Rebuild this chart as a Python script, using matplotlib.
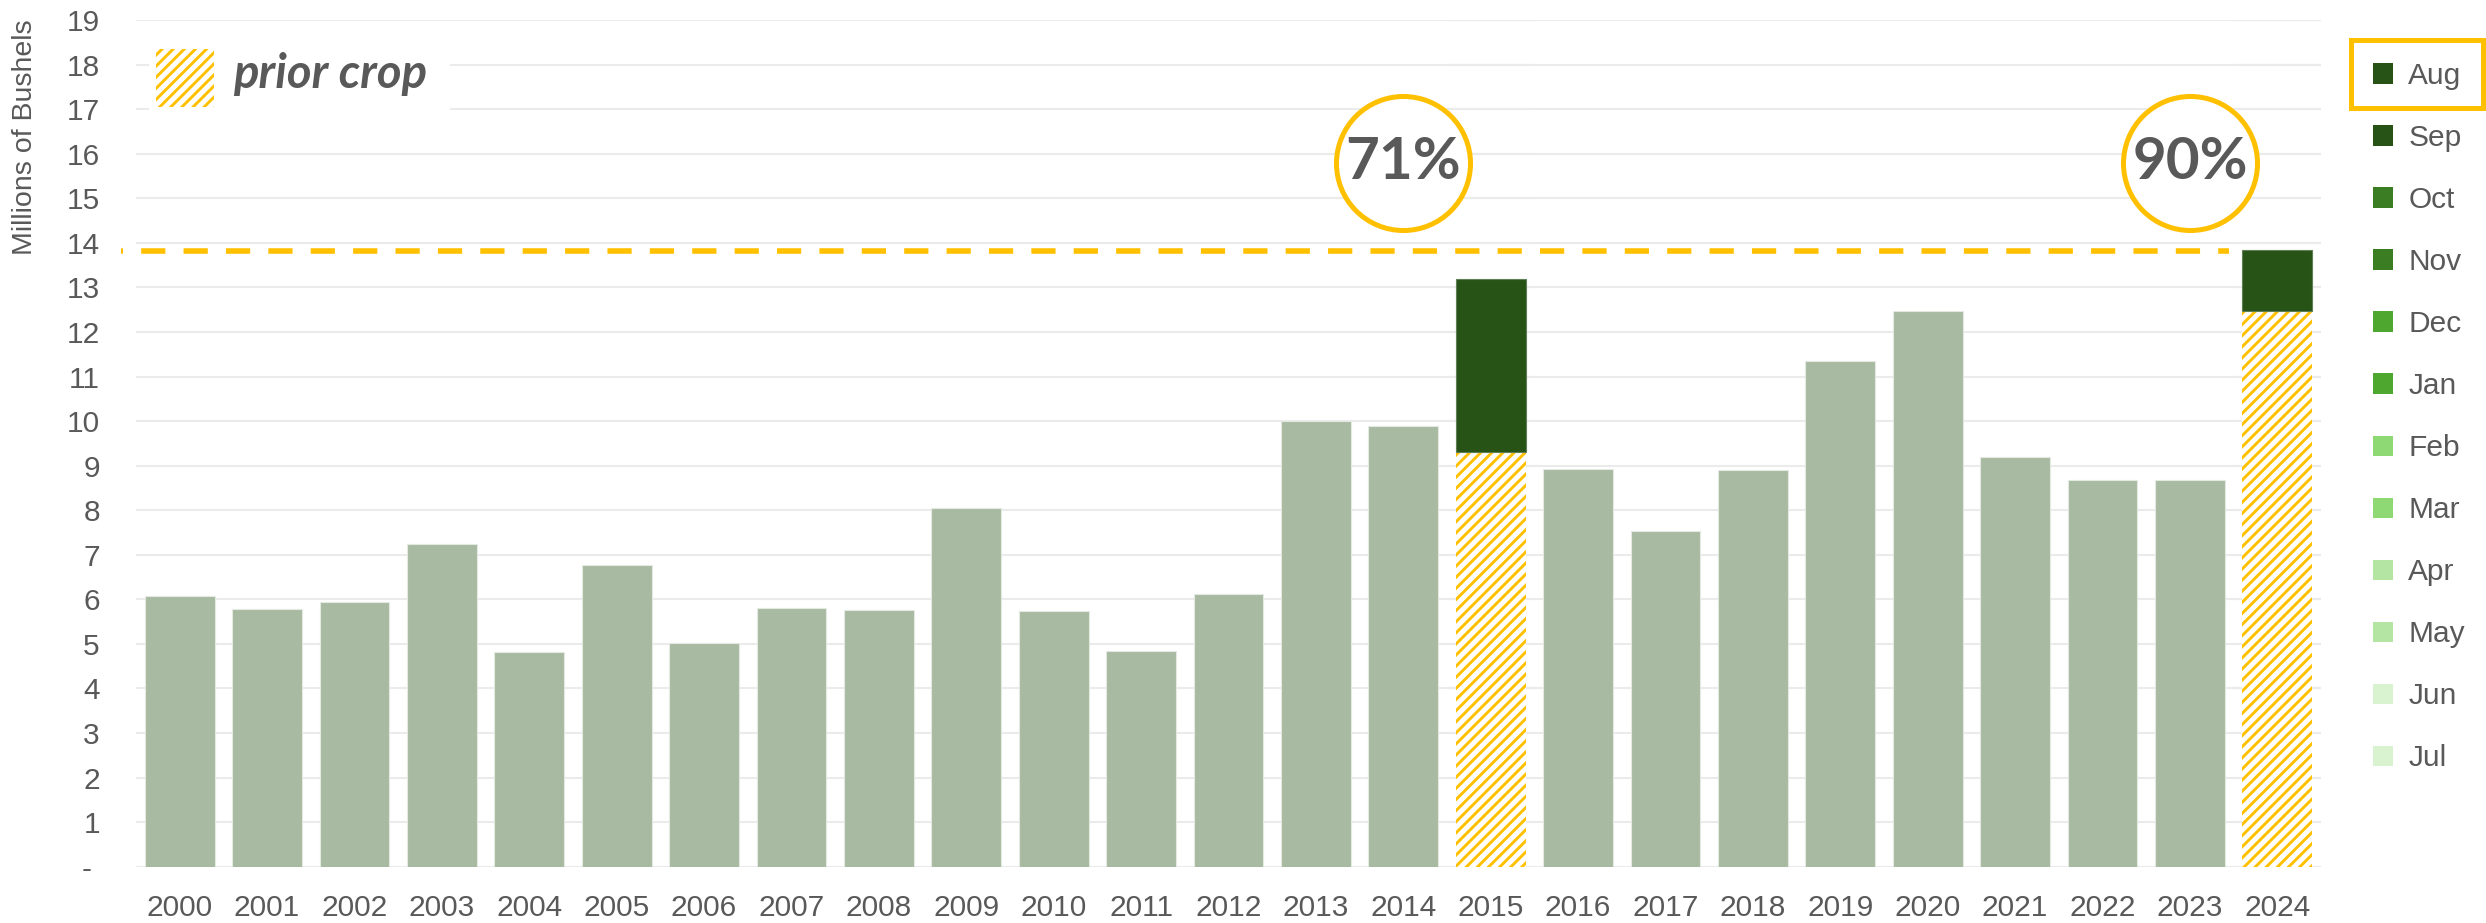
import matplotlib
matplotlib.use("Agg")
import matplotlib.pyplot as plt
from matplotlib.patches import Patch, Rectangle
import numpy as np

# ---------------- data ----------------
years = [str(y) for y in range(2000, 2025)]
historical = [6.07, 5.79, 5.93, 7.25, 4.81, 6.76, 5.02, 5.80, 5.77, 8.04,
              5.74, 4.85, 6.13, 10.00, 9.89, 0.00, 8.93, 7.54, 8.90, 11.34,
              12.46, 9.19, 8.67, 8.67, 0.00]
prior_crop = [0.0] * 15 + [9.31] + [0.0] * 8 + [12.48]
aug = [0.0] * 15 + [3.88] + [0.0] * 8 + [1.35]
target_level = 13.82
months = ["Aug", "Sep", "Oct", "Nov", "Dec", "Jan", "Feb", "Mar", "Apr", "May", "Jun", "Jul"]
month_colors = ["#275317", "#275317", "#3A7D22", "#3A7D22", "#4EA72E", "#4EA72E",
                "#8ED973", "#8ED973", "#B4E5A2", "#B4E5A2", "#D9F2D0", "#D9F2D0"]
pct_labels = ["71%", "90%"]
pct_years = ["2014", "2023"]
pct_level = 15.8
yticks = list(range(0, 20))
ytick_labels = ["- "] + [str(v) for v in range(1, 20)]

# ---------------- style ----------------
TXT = "#595959"
GOLD = "#FFC000"
BAR = "#A8BAA2"
plt.rcParams["font.family"] = ["Liberation Sans", "DejaVu Sans"]
plt.rcParams["hatch.linewidth"] = 2.1

W, H, DPI = 2486, 923, 100
fig = plt.figure(figsize=(W / DPI, H / DPI), dpi=DPI)
ax = fig.add_axes([136 / W, 1 - 866.7 / H, (2321 - 136) / W, (866.7 - 20) / H])

x = np.arange(len(years))
ax.set_xlim(-0.5, len(years) - 0.5)
ax.set_ylim(0, 19)

# gridlines
ax.set_yticks(yticks)
ax.set_yticklabels(ytick_labels)
ax.yaxis.grid(True, color="#EBEBEB", linewidth=1.5, zorder=0)
ax.set_axisbelow(True)
# slightly darker grid segments behind the current-year columns
for yr in ("2015", "2024"):
    i = years.index(yr)
    ax.hlines(yticks, i - 0.5, i + 0.5, color="#D9D9D9", linewidth=1.5, zorder=0.5)

bw = 0.8
ax.bar(x, historical, width=bw, color=BAR, edgecolor="#E4EAE2", linewidth=0.8, zorder=2)
ax.bar(x, prior_crop, width=bw, color="white", edgecolor=GOLD, hatch="///",
       linewidth=0, zorder=2)
ax.bar(x, aug, width=bw, bottom=prior_crop, color=month_colors[0],
       edgecolor="#5F7F55", linewidth=0.8, zorder=2)

# dashed target line
ax.plot([-0.67, 23.45], [target_level, target_level], color=GOLD, linewidth=4.0,
        linestyle=(4.0, (4.36, 3.27)), solid_capstyle="butt", dash_capstyle="butt",
        clip_on=False, zorder=3)

# percentage circles
for lab, yr in zip(pct_labels, pct_years):
    xi = years.index(yr)
    ax.plot([xi], [pct_level], marker="o", markersize=96.5, markerfacecolor="white",
            markeredgecolor=GOLD, markeredgewidth=3.6, zorder=4, clip_on=False)
    ax.text(xi, pct_level, lab, ha="center", va="center", fontsize=42,
            fontweight="bold", color=TXT, family=["Lato", "DejaVu Sans"], zorder=5)

# ticks
ax.set_xticks(x)
ax.set_xticklabels(years)
ax.tick_params(axis="both", length=0, labelsize=21.5, labelcolor=TXT)
ax.tick_params(axis="y", pad=26)
ax.tick_params(axis="x", pad=20)
for s in ax.spines.values():
    s.set_visible(False)

fig.text(25 / W, 1 - 137 / H, "Millions of Bushels", rotation=90, ha="center",
         va="center", fontsize=20.5, color=TXT)

# prior crop key (white box, hatched swatch, label)
fig.add_artist(Rectangle((149 / W, 1 - 130 / H), 301 / W, 102 / H,
                         transform=fig.transFigure, facecolor="white",
                         edgecolor="none", zorder=6))
fig.add_artist(Rectangle((156 / W, 1 - 107 / H), 58 / W, 58 / H,
                         transform=fig.transFigure, facecolor="white",
                         edgecolor=GOLD, hatch="///", linewidth=0, zorder=7))
fig.text(233 / W, 1 - 88 / H, "prior crop", ha="left", va="baseline",
         fontsize=34, fontweight="bold", fontstyle="italic", color=TXT,
         family=["Lato", "DejaVu Sans"], zorder=8)

# month legend
handles = [Patch(facecolor=c, edgecolor="none") for c in month_colors]
leg2 = fig.legend(handles=handles, labels=months, loc="upper left",
                  bbox_to_anchor=(2373 / W, 1 - 62 / H), frameon=False,
                  borderpad=0, borderaxespad=0, handlelength=0.68, handleheight=0.68,
                  handletextpad=0.5, labelspacing=1.14, fontsize=21.5)
for t in leg2.get_texts():
    t.set_color(TXT)

# highlight box around first legend entry
fig.add_artist(Rectangle((2350.5 / W, 1 - 107.5 / H), 132 / W, 67 / H,
                         transform=fig.transFigure, fill=False, edgecolor=GOLD,
                         linewidth=3.6, zorder=10))

fig.savefig("out.png", dpi=DPI)
